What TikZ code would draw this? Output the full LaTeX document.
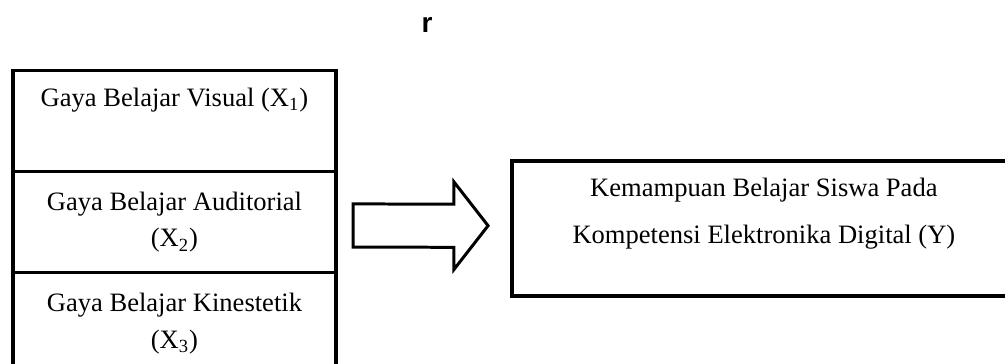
\documentclass[tikz,border=0pt]{standalone}
\usepackage{fontspec}
\setmainfont{Liberation Serif}
\newfontfamily\rfont{Liberation Sans}
\usetikzlibrary{positioning,calc}

\begin{document}
\begin{tikzpicture}[varbox/.style={rectangle, draw=black, line width=1.8pt, outer sep=0pt, fill=white, minimum width=5.685cm, minimum height=1.78cm, align=center, font=\fontsize{13.3}{18.5}\selectfont}, blockarrow/.style={draw=black, line width=1.5pt, fill=white, line join=miter}]
	\useasboundingbox (0,0) rectangle (17.69,6.39);
	\node (r) at (7.515, 5.95)	[font=\rfont\bfseries\fontsize{14}{16}\selectfont]	{r};
	\node (X1) at (3.071, 4.26)	[varbox]	{Gaya Belajar Visual (X\textsubscript{1})\\ \strut};
	\node (X2) [varbox, below=0pt of X1]	{Gaya Belajar Auditorial\\(X\textsubscript{2})};
	\node (X3) [varbox, below=0pt of X2]	{Gaya Belajar Kinestetik\\(X\textsubscript{3})};
	\node (Y) at (13.446, 2.367)	[varbox, minimum width=8.87cm, minimum height=2.376cm]	{};
	\node (Ytext) at ($(Y)+(0,0.26)$)	[align=center, font=\fontsize{13.3}{23.5}\selectfont]	{Kemampuan Belajar Siswa Pada\\Kompetensi Elektronika Digital (Y)};
	\coordinate (tail) at ($(X2.east)+(0.3,-0.06)$);
	\coordinate (tip) at ($(Y.west)+(-0.42,0.05)$);
	\draw[blockarrow] ($(tail)+(0,0.38)$) -- ($(tip)+(-0.6,0.38)$) -- ($(tip)+(-0.6,0.77)$) -- (tip) -- ($(tip)+(-0.6,-0.77)$) -- ($(tip)+(-0.6,-0.38)$) -- ($(tail)+(0,-0.38)$) -- cycle;
\end{tikzpicture}
\end{document}
